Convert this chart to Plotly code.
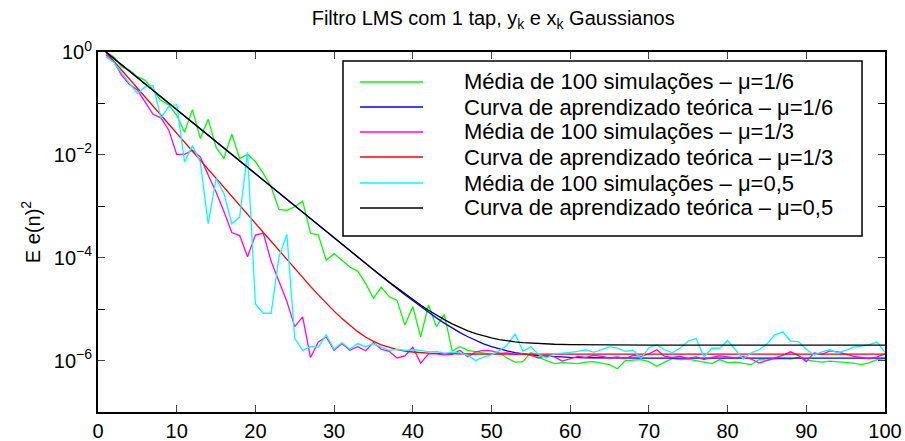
import plotly.graph_objects as go

# ---- data (log10 of E e(n)^2) ----
n_sim = list(range(1, 101))

green_log = [0.00, -0.09, -0.29, -0.35, -0.48, -0.55, -0.74, -0.94, -1.03, -1.23,
             -1.56, -1.12, -1.68, -1.31, -1.85, -2.07, -1.60, -2.07, -1.99, -2.13,
             -2.36, -2.62, -3.06, -3.08, -3.01, -2.90, -3.52, -3.56, -4.05, -3.92,
             -4.05, -4.18, -4.26, -4.50, -4.79, -4.57, -4.76, -4.83, -5.31, -4.95,
             -5.54, -4.92, -5.34, -5.10, -5.81, -5.73, -5.80, -5.83, -5.85, -5.88,
             -5.85, -5.95, -6.03, -6.02, -5.84, -5.94, -6.00, -6.06, -6.04, -6.05,
             -6.06, -6.03, -6.02, -6.05, -6.08, -6.16, -6.00, -5.99, -5.98, -6.02,
             -6.11, -6.03, -5.96, -5.98, -5.97, -6.00, -6.03, -6.06, -5.98, -6.04,
             -6.03, -6.05, -6.08, -5.98, -5.99, -5.97, -5.96, -5.97, -5.94, -5.99,
             -6.01, -6.03, -6.01, -6.02, -6.04, -6.05, -6.08, -6.04, -5.98, -5.96]

magenta_log = [-0.05, -0.19, -0.45, -0.63, -0.74, -0.97, -1.21, -1.28, -1.52, -1.99,
               -1.99, -1.91, -2.04, -2.39, -2.72, -3.10, -3.51, -3.57, -3.98, -3.56,
               -3.52, -4.07, -4.46, -4.85, -5.34, -5.15, -5.94, -5.64, -5.54, -5.80,
               -5.67, -5.80, -5.73, -5.81, -5.65, -5.78, -5.82, -5.95, -5.91, -5.74,
               -6.05, -5.87, -5.87, -5.89, -5.88, -5.80, -5.93, -5.83, -5.80, -5.81,
               -5.86, -5.85, -5.88, -5.86, -5.90, -5.95, -5.90, -5.93, -6.01, -5.96,
               -5.92, -5.94, -5.90, -5.92, -5.95, -5.93, -5.96, -5.90, -5.92, -5.87,
               -5.79, -5.92, -5.94, -5.92, -5.96, -5.93, -5.98, -5.94, -5.91, -5.93,
               -5.95, -5.92, -5.97, -6.05, -6.00, -5.95, -5.90, -5.83, -5.90, -6.02,
               -5.85, -5.88, -5.81, -5.83, -5.88, -5.92, -5.94, -5.96, -5.93, -5.87]

cyan_log = [-0.09, -0.20, -0.40, -0.60, -0.81, -0.68, -0.65, -1.28, -1.06, -1.02,
            -2.14, -1.82, -2.14, -3.34, -2.46, -2.75, -3.34, -3.21, -1.95, -4.90,
            -5.08, -5.08, -3.98, -3.55, -5.57, -5.80, -5.73, -5.74, -5.50, -5.78,
            -5.65, -5.78, -5.67, -5.73, -5.67, -5.74, -5.80, -5.78, -5.80, -5.79,
            -5.80, -5.83, -5.82, -5.86, -5.84, -5.85, -5.90, -6.00, -5.93, -5.89,
            -5.81, -5.70, -5.48, -5.82, -5.73, -5.88, -5.95, -5.87, -5.86, -5.84,
            -5.82, -5.79, -5.84, -5.79, -5.73, -5.76, -5.82, -5.80, -5.96, -5.75,
            -5.69, -5.79, -5.85, -5.75, -5.62, -5.57, -5.93, -5.76, -5.76, -5.61,
            -5.80, -5.97, -5.85, -5.79, -5.68, -5.50, -5.44, -5.62, -5.63, -5.78,
            -5.89, -5.83, -5.79, -5.85, -5.80, -5.74, -5.72, -5.69, -5.64, -5.84]

# theoretical learning curves
n_th_a = [1, 11, 21, 31, 35, 37, 39, 41, 42, 43, 44, 45, 46, 47, 48, 49, 50,
          51, 52, 53, 54, 55, 56, 57, 58, 60, 62, 65, 70, 80, 100]
blue_th = [1.0, 5.631e-2, 3.172e-3, 1.797e-4, 5.761e-5, 3.289e-5, 1.899e-5, 1.117e-5,
           8.654e-6, 6.768e-6, 5.354e-6, 4.293e-6, 3.498e-6, 2.901e-6, 2.454e-6,
           2.118e-6, 1.866e-6, 1.677e-6, 1.536e-6, 1.430e-6, 1.350e-6, 1.290e-6,
           1.245e-6, 1.212e-6, 1.187e-6, 1.153e-6, 1.135e-6, 1.121e-6, 1.113e-6,
           1.111e-6, 1.111e-6]
black_th = [1.0, 5.631e-2, 3.173e-3, 1.806e-4, 5.850e-5, 3.378e-5, 1.988e-5, 1.206e-5,
            9.543e-6, 7.657e-6, 6.243e-6, 5.182e-6, 4.387e-6, 3.790e-6, 3.343e-6,
            3.007e-6, 2.755e-6, 2.566e-6, 2.425e-6, 2.319e-6, 2.239e-6, 2.179e-6,
            2.134e-6, 2.101e-6, 2.076e-6, 2.042e-6, 2.024e-6, 2.010e-6, 2.002e-6,
            2.000e-6, 2.000e-6]
n_th_b = [1, 11, 21, 24, 26, 27, 28, 29, 30, 31, 32, 33, 34, 35, 36, 37, 38, 39,
          40, 42, 44, 47, 50, 60, 100]
red_th = [1.0, 1.734e-2, 3.021e-4, 9.044e-5, 4.093e-5, 2.773e-5, 1.893e-5, 1.307e-5,
          9.156e-6, 6.548e-6, 4.810e-6, 3.651e-6, 2.878e-6, 2.363e-6, 2.020e-6,
          1.791e-6, 1.638e-6, 1.536e-6, 1.469e-6, 1.393e-6, 1.360e-6, 1.341e-6,
          1.335e-6, 1.333e-6, 1.333e-6]

labels = ["Média de 100 simulações – μ=1/6",
          "Curva de aprendizado teórica – μ=1/6",
          "Média de 100 simulações – μ=1/3",
          "Curva de aprendizado teórica – μ=1/3",
          "Média de 100 simulações – μ=0,5",
          "Curva de aprendizado teórica – μ=0,5"]
colors = ["#00ff00", "#0000ff", "#ff00ff", "#ff0000", "#00ffff", "#000000"]

xt_vals = [0, 10, 20, 30, 40, 50, 60, 70, 80, 90, 100]
yt_vals = [1e0, 1e-2, 1e-4, 1e-6]
yt_text = ["10<sup>0</sup>", "10<sup>−2</sup>", "10<sup>−4</sup>", "10<sup>−6</sup>"]
y_minor = [1e-1, 1e-3, 1e-5]

FONT = "Liberation Sans, Arial, Helvetica, sans-serif"

series = [
    (n_sim, [10 ** v for v in green_log]),
    (n_th_a, blue_th),
    (n_sim, [10 ** v for v in magenta_log]),
    (n_th_b, red_th),
    (n_sim, [10 ** v for v in cyan_log]),
    (n_th_a, black_th),
]

fig = go.Figure()
for (xs, ys), name, col in zip(series, labels, colors):
    fig.add_trace(go.Scatter(x=xs, y=ys, mode="lines", name=name, showlegend=False,
                             line=dict(color=col, width=1.3)))

# ---- legend box (drawn in paper coordinates, MATLAB style) ----
L_X0, L_X1, L_Y0, L_Y1 = 0.3113, 0.9708, 0.4889, 0.975
LINE_X0, LINE_X1, TEXT_X = 0.3329, 0.4130, 0.4625
ROW_Y = [0.9167, 0.8472, 0.7778, 0.7083, 0.6361, 0.5667]

fig.add_shape(type="rect", xref="paper", yref="paper",
              x0=L_X0, x1=L_X1, y0=L_Y0, y1=L_Y1,
              line=dict(color="black", width=1.5), fillcolor="white", layer="above")
for name, col, ry in zip(labels, colors, ROW_Y):
    fig.add_shape(type="line", xref="paper", yref="paper",
                  x0=LINE_X0, x1=LINE_X1, y0=ry, y1=ry,
                  line=dict(color=col, width=1.3), layer="above")
    fig.add_annotation(xref="paper", yref="paper", x=TEXT_X, y=ry,
                       xanchor="left", yanchor="middle", text=name,
                       showarrow=False, font=dict(size=22))

fig.update_layout(
    width=905, height=441,
    margin=dict(l=98, r=20, t=52, b=29),
    paper_bgcolor="white", plot_bgcolor="white",
    font=dict(family=FONT, size=20, color="black"),
    title=dict(text="Filtro LMS com 1 tap, y<sub>k</sub> e x<sub>k</sub> Gaussianos",
               x=0.545, xanchor="center", y=0.96, yanchor="middle",
               font=dict(size=20)),
    showlegend=False,
)
fig.update_xaxes(range=[0, 100], tickvals=xt_vals, ticks="inside", ticklen=7,
                 showline=True, linecolor="black", linewidth=2, mirror="ticks",
                 showgrid=False, zeroline=False, tickfont=dict(size=20),
                 automargin=False)
fig.update_yaxes(type="log", range=[-7, 0], tickvals=yt_vals, ticktext=yt_text,
                 ticks="inside", ticklen=7, showline=True, linecolor="black",
                 linewidth=2, mirror="ticks", showgrid=False, zeroline=False,
                 tickfont=dict(size=20), automargin=False,
                 minor=dict(tickvals=y_minor, ticks="inside", ticklen=7,
                            tickcolor="black", showgrid=False),
                 title=dict(text="E e(n)<sup>2</sup>", standoff=8, font=dict(size=20)))

fig.write_html("out.html")
